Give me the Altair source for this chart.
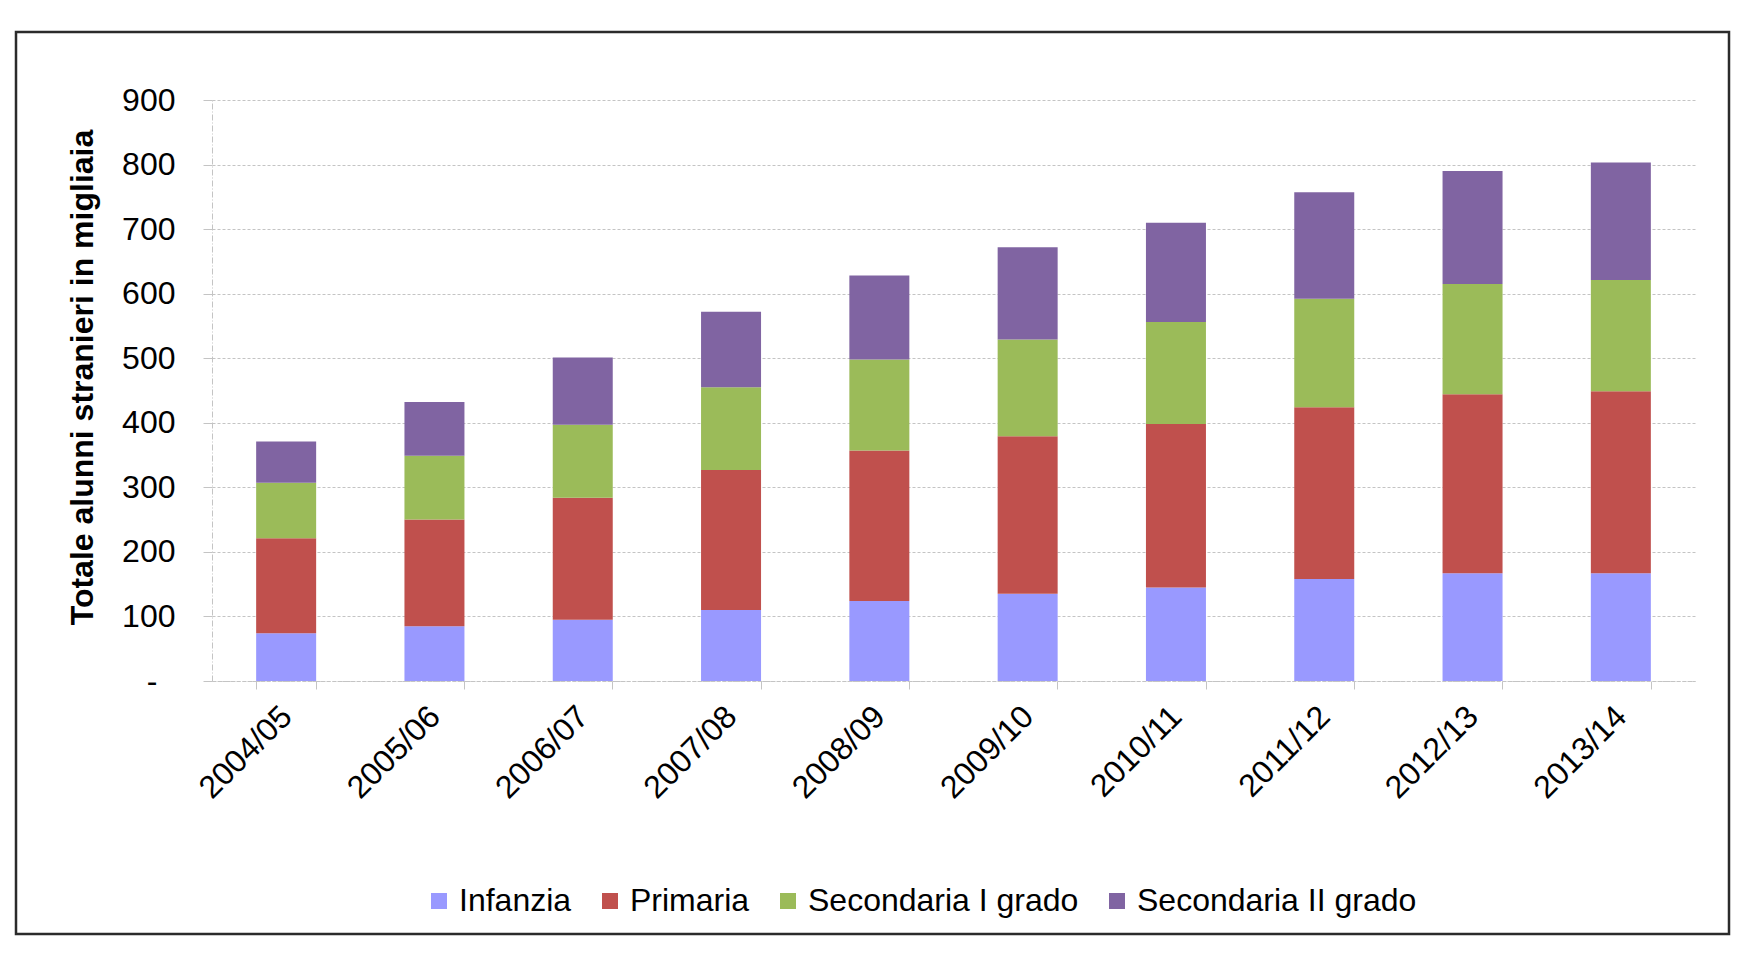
import altair as alt
import pandas as pd

anni = ["2004/05", "2005/06", "2006/07", "2007/08", "2008/09",
        "2009/10", "2010/11", "2011/12", "2012/13", "2013/14"]
serie = ["Infanzia", "Primaria", "Secondaria I grado", "Secondaria II grado"]
colori = ["#9999FF", "#C0504D", "#9BBB59", "#8064A2"]

infanzia = [74, 85, 95, 110, 124, 135, 145, 158, 167, 167]
primaria = [147, 165, 189, 217, 233, 244, 253, 266, 277, 282]
secondaria_1 = [86, 99, 113, 128, 141, 150, 158, 168, 171, 172]
secondaria_2 = [64, 83, 104, 117, 130, 143, 154, 165, 175, 182]

valori = [infanzia, primaria, secondaria_1, secondaria_2]
rows = []
for si, (s, vals) in enumerate(zip(serie, valori)):
    for a, v in zip(anni, vals):
        rows.append({"anno": a, "livello": s, "ordine": si, "valore": v})
df = pd.DataFrame(rows)

FONT = "Liberation Sans"
GRID = "#C4C4C4"

bars = alt.Chart(df).mark_bar(size=60).encode(
    x=alt.X("anno:N", sort=anni, title=None,
            scale=alt.Scale(paddingInner=0.6, paddingOuter=0.3),
            axis=alt.Axis(labelAngle=-45, labelAlign="right", labelBaseline="middle",
                          labelFontSize=32, labelFont=FONT, labelColor="#000000",
                          labelPadding=22, tickBand="extent", tickSize=8,
                          tickColor=GRID, domainColor=GRID, domainDash=[4, 2],
                          grid=False)),
    y=alt.Y("valore:Q", stack="zero",
            scale=alt.Scale(domain=[0, 900], nice=False),
            axis=alt.Axis(values=[0, 100, 200, 300, 400, 500, 600, 700, 800, 900],
                          labelExpr="datum.value == 0 ? '-' : datum.label",
                          labelFontSize=32, labelFont=FONT, labelColor="#000000",
                          labelPadding=alt.condition("datum.value == 0",
                                                     alt.value(46), alt.value(28)),
                          tickSize=9, tickColor=GRID,
                          domainColor=GRID, domainDash=[6, 2, 1, 2],
                          gridColor=GRID, gridDash=[3, 2], gridWidth=1,
                          title="Totale alunni stranieri in migliaia",
                          titleFont=FONT, titleFontSize=32, titleFontWeight="bold",
                          titleColor="#000000", titleAngle=-90,
                          titleBaseline="alphabetic", titleAlign="center",
                          titleX=-120, titleY=277)),
    color=alt.Color("livello:N", sort=serie,
                    scale=alt.Scale(domain=serie, range=colori),
                    legend=alt.Legend(title=None, orient="none", direction="horizontal",
                                      legendX=211, legendY=785,
                                      symbolType="square", symbolSize=256,
                                      symbolStrokeWidth=0, symbolOpacity=1,
                                      labelFont=FONT, labelFontSize=32,
                                      labelColor="#000000", labelOffset=4,
                                      labelLimit=0,
                                      columnPadding=22, padding=0)),
    order=alt.Order("ordine:Q", sort="ascending"),
)

frame = alt.Chart(pd.DataFrame({"f": [0]})).mark_rect(
    filled=False, stroke="#2b2b2b", strokeWidth=2.5
).encode(
    x=alt.value(-196), x2=alt.value(1517),
    y=alt.value(-68), y2=alt.value(834),
)

chart = alt.layer(bars, frame).properties(
    width=1483, height=581,
    padding={"left": 6, "top": 22, "right": 5, "bottom": 5},
    background="#FFFFFF",
).configure_view(stroke=None)

chart.save("out.html", embed_options={"renderer": "svg", "actions": False})
